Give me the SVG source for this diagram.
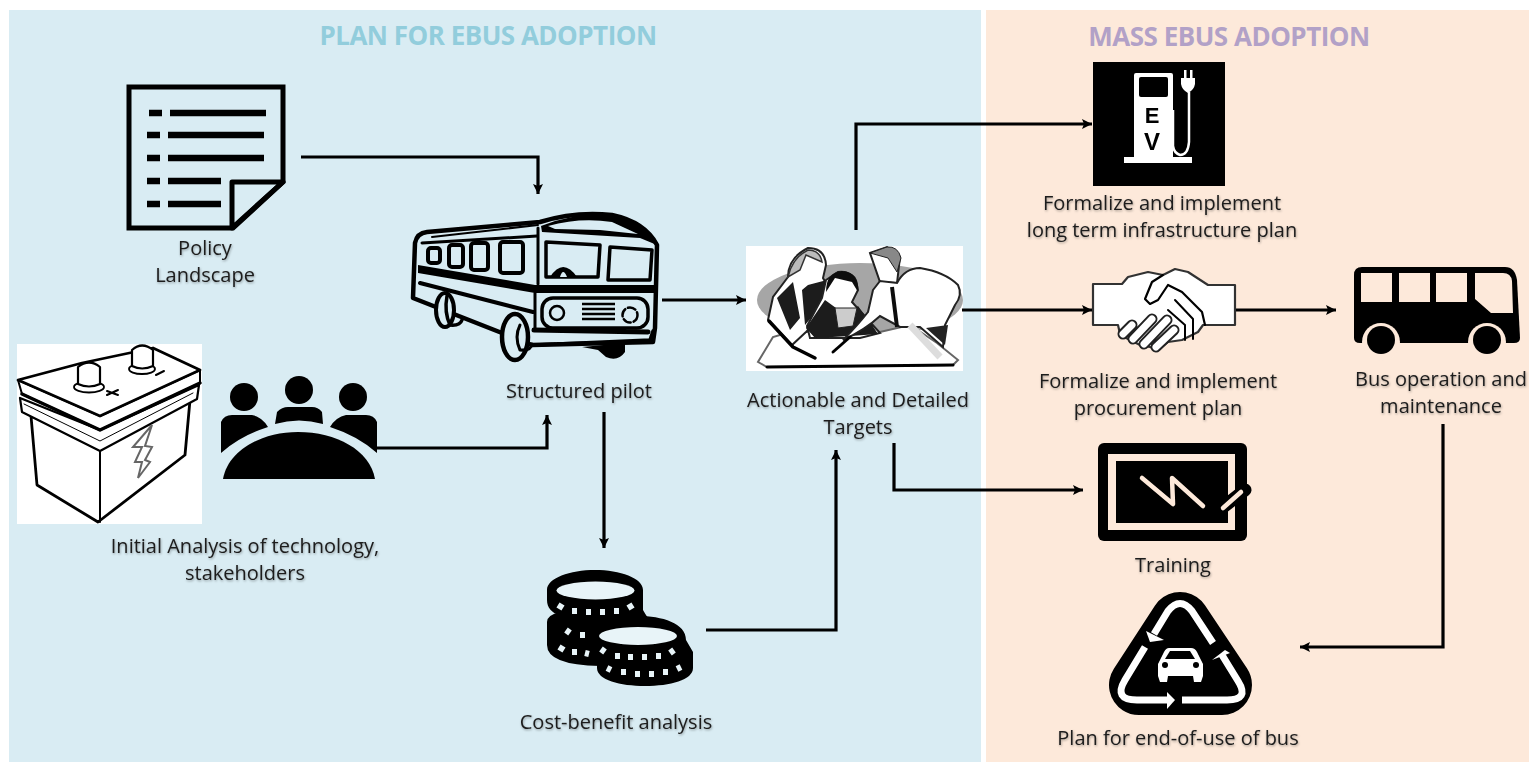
<svg xmlns="http://www.w3.org/2000/svg" width="1529" height="762" viewBox="0 0 1529 762">
<style>
.lb{font-family:"Open Sans","Noto Sans","Liberation Sans",sans-serif;font-size:20px;fill:#1c1c1c;text-anchor:middle;filter:url(#ts)}
.ti{font-family:"Open Sans","Noto Sans","Liberation Sans",sans-serif;font-size:26px;font-weight:700;text-anchor:middle;letter-spacing:-.5px}
.c{fill:none;stroke:#000;stroke-width:3.2;marker-end:url(#ah)}
.k{fill:none;stroke:#000;stroke-linecap:round;stroke-linejoin:round}
.w{fill:#fff;stroke:#000;stroke-linejoin:round}
.lt{fill:none;stroke:#e8f4f8;stroke-width:6;stroke-linecap:butt}
</style>
<defs>
<marker id="ah" markerUnits="userSpaceOnUse" markerWidth="12" markerHeight="12" refX="10" refY="5" orient="auto"><path d="M0 0L10 5L0 10L2 5Z" fill="#000"/></marker>
<filter id="ts" x="-5%" y="-20%" width="110%" height="150%"><feDropShadow dx="0.6" dy="1.2" stdDeviation="1" flood-color="#000" flood-opacity=".35"/></filter>
<filter id="bl" x="-30%" y="-30%" width="160%" height="160%"><feGaussianBlur stdDeviation=".5"/></filter>
</defs>
<rect width="1529" height="762" fill="#fff"/>
<rect id="panel-plan" x="9" y="10" width="972" height="752" fill="#d9ecf3"/>
<rect id="panel-mass" x="986" y="10" width="543" height="752" fill="#fde9da"/>
<text class="ti" x="488" y="45" fill="#92cddc">PLAN FOR EBUS ADOPTION</text>
<text class="ti" x="1229" y="46" fill="#b2a1c7">MASS EBUS ADOPTION</text>

<g id="policy" filter="url(#bl)">
<path d="M129 87H283V182L233 228H129Z" fill="none" stroke="#000" stroke-width="5"/>
<path d="M283 182H232V228Z" fill="none" stroke="#000" stroke-width="5" stroke-linejoin="round"/>
<path d="M149 113h13M170 113h96M147 135h13M168 135h96M147 158h13M168 158h96M147 181h13M168 181h53M147 204h13M168 204h53" stroke="#000" stroke-width="6.5" fill="none"/>
</g>
<text class="lb" x="205" y="255">Policy</text>
<text class="lb" x="205" y="282">Landscape</text>

<g id="pilot" filter="url(#bl)">
<path d="M415 243Q417 233 427 232L540 222Q575 211 612 215Q645 222 657 245L655 328L653 342L532 345L502 333L413 298Z" fill="#d9ecf3" stroke="#000" stroke-width="4.500" stroke-linejoin="round"/>
<path d="M432 237L538 225" class="k" stroke-width="2"/>
<path d="M422 243L537 236" class="k" stroke-width="3"/>
<path d="M541 226Q575 212 612 215Q645 222 657 245L640 238L542 232Z" fill="#000"/>
<path d="M548 226Q580 217 612 222L638 234L600 230L555 229Z" fill="#d9ecf3"/>
<path d="M538 228V284" class="k" stroke-width="3"/>
<rect x="428" y="248" width="12" height="15" rx="3" class="k" stroke-width="4"/>
<rect x="449" y="245" width="14" height="22" rx="3" class="k" stroke-width="4"/>
<rect x="471" y="243" width="17" height="27" rx="3" class="k" stroke-width="4"/>
<rect x="500" y="242" width="23" height="31" rx="3" class="k" stroke-width="4"/>
<path d="M546 242L600 245L598 277L546 277Z" class="k" stroke-width="3.500"/>
<path d="M610 247L652 250L650 280L608 280Z" class="k" stroke-width="3.500"/>
<path d="M550 277Q563 257 577 277Z" fill="#000"/>
<path d="M560 277Q563 267 567 277Z" fill="#d9ecf3"/>
<path d="M418 265L535 285V293L418 273Z" fill="#000"/>
<path d="M535 285H656V293H535Z" fill="#000"/>
<path d="M420 283L533 312" class="k" stroke-width="4"/>
<path d="M535 293V330" class="k" stroke-width="3"/>
<rect x="542" y="298" width="106" height="30" rx="11" class="k" stroke-width="3.500"/>
<circle cx="557" cy="313" r="7" class="k" stroke-width="2.500"/>
<circle cx="630" cy="315" r="7.500" class="k" stroke-width="2.500" stroke-dasharray="8 3"/>
<path d="M582 304h33M582 309h33M582 314h33M582 319h33" stroke="#000" stroke-width="2.500" fill="none"/>
<path d="M534 330L648 332" class="k" stroke-width="5"/>
<path d="M534 345L650 340L653 331" class="k" stroke-width="3.500"/>
<ellipse cx="445" cy="310" rx="9" ry="17" fill="#d9ecf3" stroke="#000" stroke-width="4"/>
<path d="M447 296Q444 312 450 325Q460 326 462 320" class="k" stroke-width="3.500"/>
<ellipse cx="515" cy="337" rx="13" ry="23" fill="#d9ecf3" stroke="#000" stroke-width="4.500"/>
<path d="M520 325Q514 337 520 350Q531 351 532 344" class="k" stroke-width="3"/>
<path d="M582 347L625 343V352Q618 362 606 357L598 350Z" fill="#000"/>
</g>
<text class="lb" x="579" y="398">Structured pilot</text>

<g id="analysis" filter="url(#bl)">
<rect x="17" y="344" width="185" height="180" fill="#fff"/>
<path d="M31 416L37 485L98 522L185 455L190 400L101 445Z" class="w" stroke-width="2.800"/>
<path d="M20 398L22 412L100 451L197 399L199 385L100 430Z" class="w" stroke-width="2.200"/>
<path d="M18 380L22 394L100 430L200 383L200 370L100 416Z" class="w" stroke-width="2"/>
<path d="M22 394L100 430L200 383" class="k" stroke-width="3.500"/>
<path d="M18 380L82 363L153 348L200 370L100 416Z" class="w" stroke-width="2.800"/>
<path d="M24 404L100 441L193 393" class="k" stroke-width="1" stroke="#777"/>
<path d="M100 452V522" class="k" stroke-width="2"/>
<ellipse cx="89" cy="387" rx="15" ry="5.500" class="k" stroke-width="1.800"/>
<path d="M78 367Q89 358 100 367V384Q89 389 78 384Z" class="w" stroke-width="2.200"/>
<ellipse cx="142" cy="369" rx="13" ry="5" class="k" stroke-width="1.800"/>
<path d="M132 350Q142 341 153 350V366Q142 371 132 366Z" class="w" stroke-width="2.200"/>
<path d="M107 391l11 4M118 390l-11 5M156 375l8-4" class="k" stroke-width="2"/>
<path d="M152 425L133 447H142L135 462H142L138 478L150 462L145 460L152 447L145 446Z" fill="#fff" stroke="#666" stroke-width="2"/>
</g>

<g id="stakeholders" filter="url(#bl)">
<circle cx="244" cy="397" r="14"/>
<circle cx="299" cy="390" r="14"/>
<circle cx="353" cy="397" r="14"/>
<path d="M221 453V422Q224 415 232 415H252Q262 417 268 427Q240 436 221 453Z"/>
<path d="M275 424L277 412Q282 407 288 407H312Q318 407 322 412L323 424Q299 417 275 424Z"/>
<path d="M377 453V422Q374 415 366 415H346Q336 417 330 427Q358 436 377 453Z"/>
<path d="M223 479C228 450 262 432 298 432C336 432 370 450 375 479Z"/>
</g>
<text class="lb" x="245" y="553">Initial Analysis of technology,</text>
<text class="lb" x="245" y="580">stakeholders</text>

<g id="cost" filter="url(#bl)">
<path d="M547 622Q547 615 560 612L640 612Q651 615 650 630L650 660L600 666Q547 665 547 645Z"/>
<path d="M547 590C547 578 570 570 595 570C620 570 643 578 643 590V610L650 622C640 622 620 618 595 620C565 620 547 615 547 600Z"/>
<ellipse cx="595.500" cy="590.500" rx="39" ry="9" fill="#e8f4f8"/>
<path d="M558 605l5 3M572 611h5M586 612h5M600 612h5M614 611h5M628 608l5-3M566 630l4 3M580 635h5M559 647l5 3M572 652h5M585 653l4 1" class="lt"/>
<path d="M597 660H693V668C693 680 670 686 645 686C620 686 597 680 597 668Z"/>
<path d="M595 636C595 623 615 616 638 616C662 616 686 623 686 640L693 652V662H597L595 650Z"/>
<ellipse cx="638" cy="636" rx="39" ry="9" fill="#e8f4f8"/>
<path d="M601 649l4 3M615 656h5M628 657h5M642 657h5M656 656h5M670 653l4-3M607 668l4 2M621 672h5M635 674h5M649 674h5M663 672h5M677 669l4-2" class="lt"/>
</g>
<text class="lb" x="616" y="729">Cost-benefit analysis</text>

<g id="targets" filter="url(#bl)">
<rect x="746" y="246" width="217" height="125" fill="#fff"/>
<ellipse cx="860" cy="300" rx="103" ry="37" fill="#a6a6a6"/>
<path d="M773 337L758 362L767 367L860 366L953 365L958 360L937 343L910 325L880 332H790Z" fill="#fff" stroke="#666" stroke-width="2"/>
<path d="M767 367L860 366L953 365" class="k" stroke="#777" stroke-width="3"/>
<path d="M788 277Q788 258 808 248Q825 248 826 265L823 278L830 290L828 310L806 332L792 345L768 320L773 297Z" fill="#fff" stroke="#222" stroke-width="2"/>
<path d="M788 277Q792 258 808 250Q820 250 822 262L806 255L800 270Z" fill="#bbb" stroke="#333" stroke-width="1.500"/>
<path d="M777 298L793 282L800 318L790 330ZM808 285L827 280L826 300L805 325L802 290Z" fill="#1a1a1a"/>
<path d="M769 321L793 347L815 358" class="k" stroke-width="3.500"/>
<path d="M807 326L822 298L826 280L838 272Q855 270 858 290L852 302L870 322L880 333L860 338L810 338Z" fill="#fff" stroke="#222" stroke-width="2"/>
<path d="M826 292Q826 272 842 271Q860 272 858 292L852 282L835 278Z" fill="#111"/>
<path d="M806 328L825 300L836 308L842 320L858 306L872 325L878 334L850 336L815 338Z" fill="#1a1a1a"/>
<path d="M835 308L857 308L853 326L838 328Z" fill="#ccc" stroke="#222" stroke-width="1"/>
<path d="M870 253L887 247L900 257L897 283L880 282Z" fill="#fff" stroke="#222" stroke-width="2"/>
<path d="M870 253L887 247Q898 246 901 258L897 272L888 258Z" fill="#888" stroke="#222" stroke-width="1"/>
<path d="M873 290L880 281L897 283Q905 268 920 268Q945 272 958 285Q963 295 955 305L945 325L943 347L920 327L900 327L880 316Q865 330 843 340Q858 325 868 312Z" fill="#fff" stroke="#222" stroke-width="2"/>
<path d="M892 287L897 327" stroke="#111" stroke-width="4" fill="none"/>
<path d="M910 325L940 357" stroke="#ddd" stroke-width="7" fill="none"/>
<path d="M926 328L945 345L948 325Z" fill="#222"/>
<path d="M833 352L850 337" class="k" stroke-width="3"/>
</g>
<text class="lb" x="858" y="407">Actionable and Detailed</text>
<text class="lb" x="858" y="434">Targets</text>

<g id="infrastructure" filter="url(#bl)">
<rect x="1093" y="62" width="132" height="124" fill="#000"/>
<path d="M1136 73H1171Q1173 73 1173 75V157H1192V163H1124V157H1134V75Q1134 73 1136 73Z" fill="#fff"/>
<rect x="1139" y="77" width="29" height="20" rx="2" fill="#000"/>
<text x="1152" y="123" font-family="Liberation Sans,sans-serif" font-size="22" font-weight="700" text-anchor="middle">E</text>
<text x="1152" y="150" font-family="Liberation Sans,sans-serif" font-size="24" font-weight="700" text-anchor="middle">V</text>
<path d="M1181 78H1195V84Q1194 90 1188 93Q1182 90 1181 84ZM1184 70h2.500v9h-2.500ZM1190 70h2.500v9h-2.500Z" fill="#fff"/>
<path d="M1189 92V142Q1188 155 1180 155Q1174 153 1173 146V110" fill="none" stroke="#fff" stroke-width="2.500"/>
</g>
<text class="lb" x="1162" y="210">Formalize and implement</text>
<text class="lb" x="1162" y="237">long term infrastructure plan</text>

<g id="procurement" filter="url(#bl)">
<path d="M1093 284H1122L1128 277L1148 272L1163 275L1175 269L1188 272L1208 285H1235V325H1203L1198 332L1182 340L1168 342L1158 350L1150 347L1140 345L1128 339L1120 334L1118 325H1093Z" fill="#fff" stroke="#333" stroke-width="2.200" stroke-linejoin="round"/>
<path d="M1163 275L1152 282L1145 299L1150 304L1158 300L1168 285L1182 292L1202 312L1205 325" class="k" stroke-width="2.200"/>
<path d="M1175 300L1193 319V339M1168 310L1185 325V340" class="k" stroke-width="2"/>
<path d="M1123 334L1132 325M1133 339L1152 319M1144 344L1167 320M1156 347L1174 330" stroke="#222" stroke-width="11" stroke-linecap="round"/>
<path d="M1123 334L1132 325M1133 339L1152 319M1144 344L1167 320M1156 347L1174 330" stroke="#fff" stroke-width="7" stroke-linecap="round"/>
</g>
<text class="lb" x="1158" y="388">Formalize and implement</text>
<text class="lb" x="1158" y="415">procurement plan</text>

<g id="operation" filter="url(#bl)">
<path d="M1362 267H1505Q1515 267 1517 280L1520 338Q1520 343 1514 343H1360Q1354 343 1354 338V275Q1354 267 1362 267Z"/>
<path d="M1361 273h31v29h-31ZM1399 273h31v29h-31ZM1436 273h31v29h-31ZM1475 273h28q8 0 9 8l1 32h-22l-16-14Z" fill="#fde9da"/>
<circle cx="1381" cy="342" r="19" fill="#fde9da"/>
<circle cx="1487" cy="342" r="19" fill="#fde9da"/>
<circle cx="1381" cy="340" r="14"/>
<circle cx="1487" cy="340" r="14"/>
</g>
<text class="lb" x="1441" y="386">Bus operation and</text>
<text class="lb" x="1441" y="413">maintenance</text>

<g id="training" filter="url(#bl)">
<rect x="1098" y="443" width="149" height="98" rx="6"/>
<rect x="1108" y="454" width="127" height="76" fill="#fde9da"/>
<rect x="1116" y="461" width="112" height="62"/>
<path d="M1142 478L1173 504L1172 478L1203 506" fill="none" stroke="#fde9da" stroke-width="4.500" stroke-linecap="round" stroke-linejoin="round"/>
<path d="M1222 508L1245 490" stroke="#000" stroke-width="13" stroke-linecap="round"/>
<path d="M1223 508L1241 492" stroke="#fde9da" stroke-width="4.500" stroke-linecap="round"/>
</g>
<text class="lb" x="1173" y="572">Training</text>

<g id="end-of-use" filter="url(#bl)">
<path d="M1180 622L1139 685H1222Z" fill="#000" stroke="#000" stroke-width="60" stroke-linejoin="round"/>
<path d="M1213 643L1192 611Q1180 596 1168 611L1154 634" fill="none" stroke="#fff" stroke-width="7"/>
<path d="M1146 631L1164 640L1150 642Z" fill="#fff"/>
<path d="M1145 647L1125 680Q1113 700 1137 700H1168" fill="none" stroke="#fff" stroke-width="7"/>
<path d="M1167 692L1175 700L1167 709Z" fill="#fff"/>
<path d="M1182 700H1227Q1250 700 1238 681L1222 655" fill="none" stroke="#fff" stroke-width="7"/>
<path d="M1212 660L1225 650L1230 653Z" fill="#fff"/>
<path d="M1169 648H1191Q1195 648 1197 652L1203 664V676L1201 682H1194L1193 676H1168L1167 682H1160L1158 676V664L1164 652Q1166 648 1169 648Z" fill="#fff"/>
<path d="M1170 651H1190L1195 659H1165Z" fill="#000"/>
<circle cx="1165" cy="665" r="3"/>
<circle cx="1196" cy="665" r="3"/>
</g>
<text class="lb" x="1178" y="745">Plan for end-of-use of bus</text>

<g id="connectors" filter="url(#bl)">
<path class="c" d="M301 157H538V194"/>
<path class="c" d="M377 448H547V415"/>
<path class="c" d="M604 412V548"/>
<path class="c" d="M662 300H746"/>
<path class="c" d="M706 630H836V450"/>
<path class="c" d="M856 230V124H1092"/>
<path class="c" d="M962 310H1092"/>
<path class="c" d="M1236 310H1336"/>
<path class="c" d="M894 443V490H1083"/>
<path class="c" d="M1443 424V647H1300"/>
</g>
</svg>
